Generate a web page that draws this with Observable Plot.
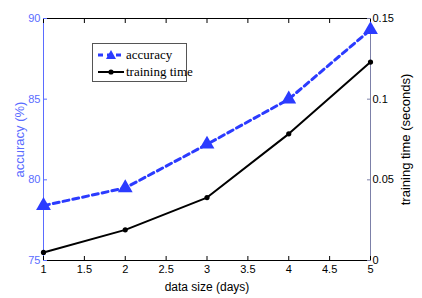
<!DOCTYPE html>
<html>
<head>
<meta charset="utf-8">
<script src="https://cdn.jsdelivr.net/npm/d3@7"></script>
<script src="https://cdn.jsdelivr.net/npm/@observablehq/plot@0.6"></script>
<style>
  html, body { margin: 0; padding: 0; background: #fff; }
  #wrap { position: relative; width: 422px; height: 298px; }
  #legend {
    position: absolute; left: 92px; top: 43px; width: 95px; height: 39px;
    border: 1px solid #555; background: #fff; box-sizing: border-box;
    font-family: "Liberation Serif", "Times New Roman", serif; font-size: 13px; color: #000;
  }
  #legend .row { position: absolute; left: 0; height: 16px; line-height: 16px; }
  #legend svg { position: absolute; left: 4px; top: 0; }
  #legend span { position: absolute; left: 33px; white-space: nowrap; }
</style>
</head>
<body>
<div id="wrap"></div>
<script>
const days = [1, 2, 3, 4, 5];
const accuracy = [78.4, 79.5, 82.2, 85.0, 89.3];
const trainingTime = [0.005, 0.019, 0.039, 0.0785, 0.123];
const xTicks = [1, 1.5, 2, 2.5, 3, 3.5, 4, 4.5, 5];
const accTicks = [75, 80, 85, 90];
const timeTicks = [0, 0.05, 0.1, 0.15];
const seriesNames = ["accuracy", "training time"];

const accBlue = "#2b3bff";
const axisBlue = "#5a6cff";
const rightGray = "#7c80a8";

// map training time onto the accuracy scale (0..0.15 -> 75..90)
const toAcc = t => 75 + t * 100;

const accData = days.map((d, i) => ({x: d, y: accuracy[i]}));
const timeData = days.map((d, i) => ({x: d, y: toAcc(trainingTime[i])}));

const chart = Plot.plot({
  width: 422,
  height: 298,
  marginLeft: 43,
  marginRight: 52,
  marginTop: 18,
  marginBottom: 38,
  style: {fontFamily: "'Liberation Sans', Arial, sans-serif", fontSize: "11px", background: "#fff"},
  x: {domain: [1, 5]},
  y: {domain: [75, 90]},
  marks: [
    Plot.ruleY([90], {stroke: "#000", strokeWidth: 1}),
    Plot.ruleY([75], {stroke: "#000", strokeWidth: 1}),
    Plot.ruleX([1], {stroke: axisBlue, strokeWidth: 1}),
    Plot.ruleX([5], {stroke: rightGray, strokeWidth: 1}),
    Plot.axisX({anchor: "bottom", ticks: xTicks, tickSize: -4, tickPadding: 9, tickFormat: d => String(d),
      label: null, color: "#000"}),
    Plot.axisX({anchor: "bottom", ticks: [], label: "data size (days)", labelAnchor: "center", labelArrow: "none",
      labelOffset: 30, color: "#000", fontSize: 12}),
    Plot.axisX({anchor: "top", ticks: xTicks, tickSize: -4, tickFormat: () => "", label: null, color: "#000"}),
    Plot.axisY({anchor: "left", ticks: accTicks, tickSize: -4, tickPadding: 7, tickFormat: d => String(d),
      label: null, color: axisBlue}),
    Plot.axisY({anchor: "left", ticks: [], label: "accuracy (%)", labelAnchor: "center", labelArrow: "none",
      labelOffset: 29, color: axisBlue, fontSize: 13}),
    Plot.axisY({anchor: "right", ticks: timeTicks.map(toAcc), tickSize: -4, tickPadding: 6,
      tickFormat: (d, i) => String(timeTicks[i]), label: null, color: "#000", stroke: rightGray}),
    Plot.axisY({anchor: "right", ticks: [], label: "training time (seconds)", labelAnchor: "center", labelArrow: "none",
      labelOffset: 39, color: "#000", fontSize: 13}),
    Plot.line(timeData, {x: "x", y: "y", stroke: "#000", strokeWidth: 2}),
    Plot.dot(timeData, {x: "x", y: "y", r: 2.6, fill: "#000"}),
    Plot.line(accData, {x: "x", y: "y", stroke: accBlue, strokeWidth: 3, strokeDasharray: "6,4"}),
    Plot.dot(accData, {x: "x", y: "y", symbol: "triangle", r: 5.5, fill: accBlue})
  ]
});

const wrap = document.getElementById("wrap");
wrap.appendChild(chart);

const legend = document.createElement("div");
legend.id = "legend";
legend.innerHTML = `
  <div class="row" style="top:3px;width:100%">
    <svg width="28" height="16"><line x1="1" y1="8" x2="27" y2="8" stroke="${accBlue}" stroke-width="3" stroke-dasharray="5,4"/><path d="M14,3 L19,12 L9,12 Z" fill="${accBlue}"/></svg>
    <span>${seriesNames[0]}</span>
  </div>
  <div class="row" style="top:20px;width:100%">
    <svg width="28" height="16"><line x1="1" y1="8" x2="27" y2="8" stroke="#000" stroke-width="2"/><circle cx="14" cy="8" r="2.6" fill="#000"/></svg>
    <span>${seriesNames[1]}</span>
  </div>`;
wrap.appendChild(legend);
</script>
</body>
</html>
